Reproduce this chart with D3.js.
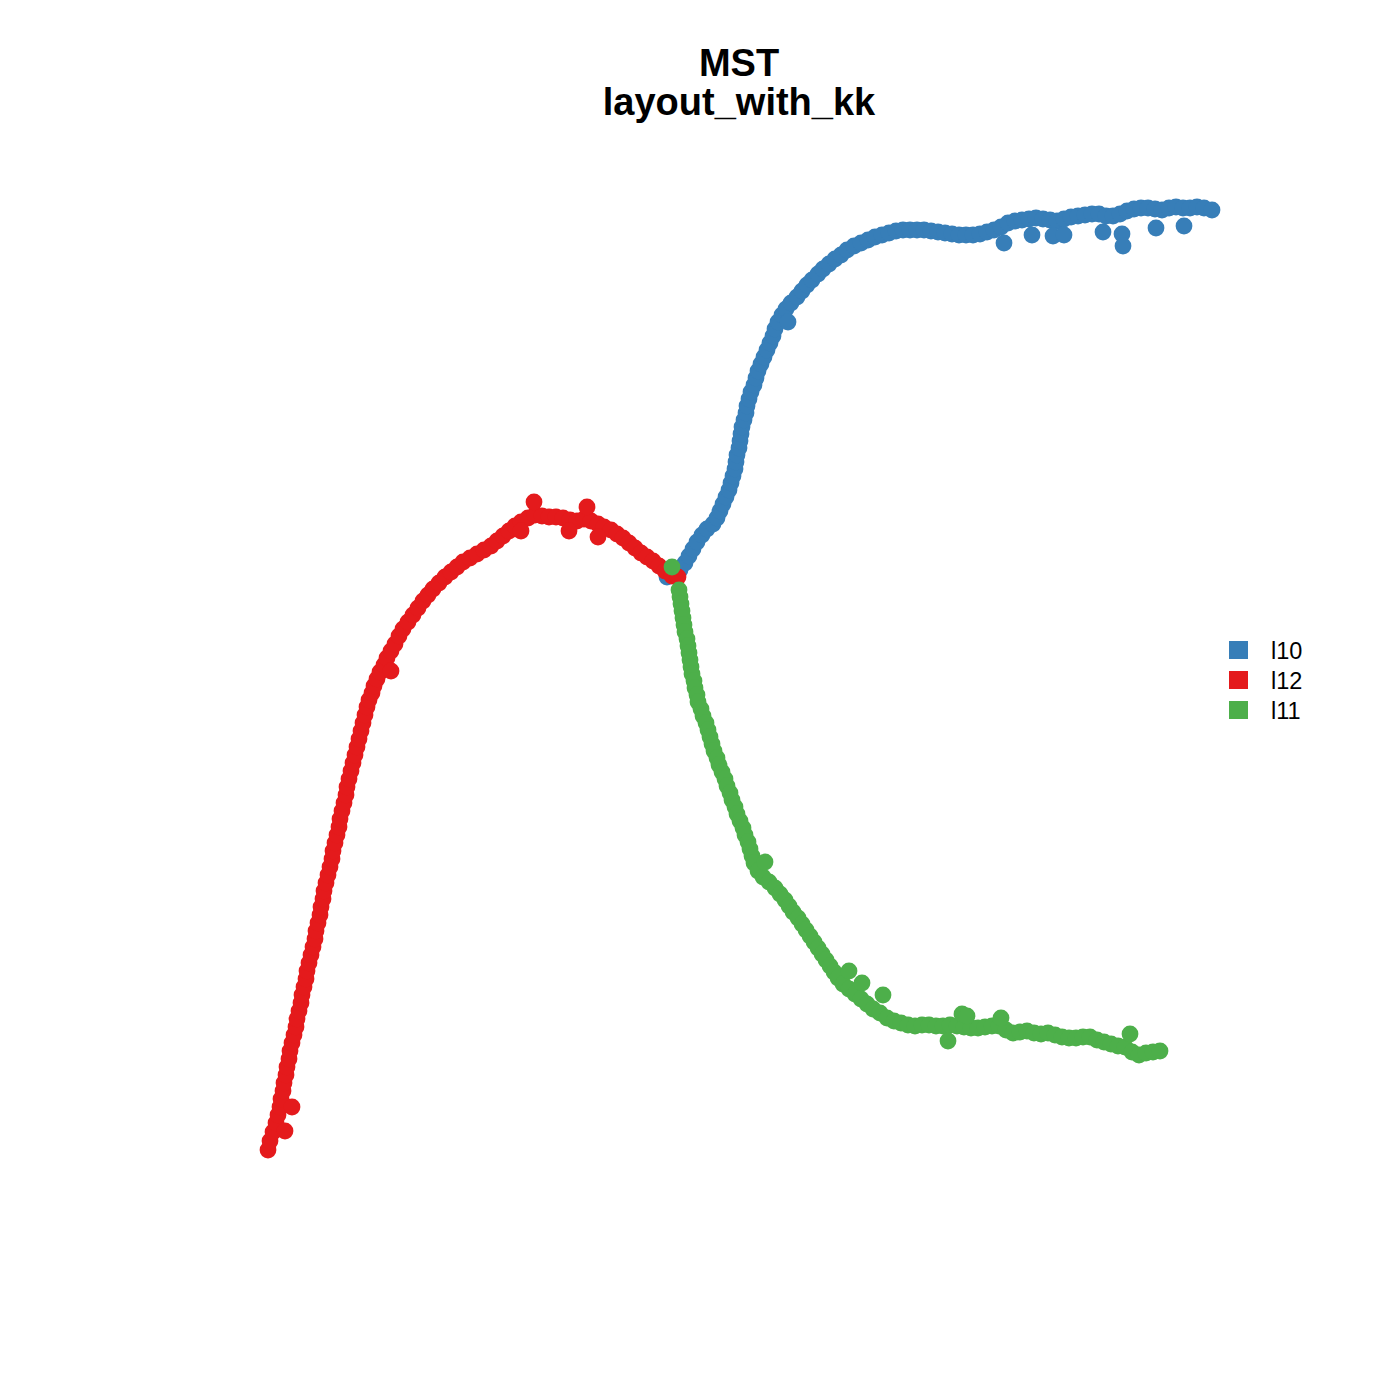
<!DOCTYPE html>
<html>
<head>
<meta charset="utf-8">
<script src="https://cdn.jsdelivr.net/npm/d3@7"></script>
<style>
  html, body { margin: 0; padding: 0; background: #ffffff; }
  svg { display: block; }
</style>
</head>
<body>
<svg id="chart" width="1400" height="1400"></svg>
<script>
// ---- data: layout coordinates (layout_with_kk, arbitrary units) ----
const groups = ["l10", "l12", "l11"];
const groupColors = ["#377EB8", "#E41A1C", "#4DAF4A"];

// l10 (blue) vertices: [x, y]
const l10 = [
  [-3.3,12.3],[-2.8,12.7],[-2.0,13.0],[-1.5,13.7],[-1.1,14.4],[-0.7,15.1],[-0.3,15.8],[0.2,16.5],
  [0.7,17.1],[1.3,17.6],[1.7,18.2],[2.0,18.9],[2.3,19.6],[2.6,20.3],[2.9,21.0],[3.1,21.7],
  [3.3,22.4],[3.5,23.1],[3.6,23.8],[3.7,24.5],[3.9,25.2],[4.0,25.9],[4.1,26.6],[4.2,27.3],
  [4.4,28.0],[4.6,28.7],[4.7,29.4],[4.9,30.1],[5.1,30.8],[5.4,31.5],[5.6,32.2],[5.8,32.9],
  [6.1,33.6],[6.4,34.3],[6.7,35.0],[7.0,35.7],[7.3,36.4],[7.5,37.1],[7.8,37.8],[8.2,38.5],
  [8.6,39.1],[9.1,39.7],[9.7,40.3],[10.2,40.9],[10.7,41.5],[11.2,42.0],[11.8,42.6],[12.3,43.1],
  [12.9,43.6],[13.5,44.1],[14.1,44.5],[14.7,45.0],[15.4,45.4],[16.1,45.7],[16.8,46.0],[17.5,46.3],
  [18.2,46.5],[18.9,46.7],[19.6,46.9],[20.3,47.0],[21.0,47.0],[21.7,47.0],[22.4,47.0],[23.1,46.9],
  [23.8,46.8],[24.5,46.7],[25.2,46.6],[25.9,46.5],[26.6,46.5],[27.3,46.5],[28.0,46.6],[28.7,46.8],
  [29.4,47.0],[30.1,47.3],[30.8,47.7],[31.5,47.9],[32.2,48.0],[32.9,48.1],[33.6,48.2],[34.3,48.1],
  [35.0,48.0],[35.7,47.9],[36.4,48.1],[37.1,48.3],[37.8,48.4],[38.5,48.5],[39.2,48.6],[39.9,48.6],
  [40.6,48.4],[41.3,48.4],[42.0,48.6],[42.7,48.9],[43.4,49.1],[44.1,49.2],[44.8,49.2],[45.5,49.1],
  [46.2,49.0],[46.9,49.2],[47.6,49.3],[48.3,49.2],[49.0,49.2],[49.7,49.3],[50.4,49.2],[51.2,49.0],
  // side leaves
  [8.8,37.8],[30.4,45.7],[33.2,46.5],[35.3,46.4],[36.4,46.5],[40.3,46.8],[42.2,46.6],[42.3,45.4],
  [45.6,47.2],[48.4,47.4]
];

// l12 (red) vertices
const l12 = [
  [-43.2,-45.0],[-43.0,-44.1],[-42.7,-43.2],[-42.4,-42.3],[-42.2,-41.5],[-42.0,-40.7],[-41.9,-39.9],
  [-41.7,-39.1],[-41.6,-38.3],[-41.4,-37.5],[-41.3,-36.7],[-41.1,-35.9],[-41.0,-35.1],[-40.8,-34.3],
  [-40.6,-33.5],[-40.4,-32.7],[-40.3,-31.9],[-40.1,-31.1],[-39.9,-30.3],[-39.8,-29.5],[-39.6,-28.7],
  [-39.4,-27.9],[-39.3,-27.1],[-39.1,-26.3],[-38.9,-25.5],[-38.7,-24.7],[-38.5,-23.9],[-38.4,-23.1],
  [-38.2,-22.3],[-38.0,-21.5],[-37.9,-20.7],[-37.7,-19.9],[-37.6,-19.1],[-37.4,-18.3],[-37.2,-17.5],
  [-37.0,-16.7],[-36.8,-15.9],[-36.7,-15.1],[-36.5,-14.3],[-36.3,-13.5],[-36.1,-12.7],[-36.0,-11.9],
  [-35.8,-11.1],[-35.6,-10.3],[-35.4,-9.5],[-35.3,-8.7],[-35.1,-7.9],[-34.9,-7.1],[-34.7,-6.3],
  [-34.5,-5.5],[-34.3,-4.7],[-34.1,-3.9],[-33.9,-3.1],[-33.7,-2.3],[-33.5,-1.5],[-33.3,-0.7],
  [-33.1,0.0],[-32.8,0.7],[-32.6,1.4],[-32.3,2.1],[-32.0,2.8],[-31.6,3.5],[-31.3,4.2],[-30.9,4.9],
  [-30.5,5.6],[-30.1,6.4],[-29.7,7.1],[-29.2,7.8],[-28.7,8.5],[-28.2,9.2],[-27.7,9.9],[-27.2,10.5],
  [-26.7,11.1],[-26.1,11.7],[-25.5,12.3],[-24.9,12.8],[-24.3,13.3],[-23.7,13.8],[-23.0,14.2],
  [-22.3,14.6],[-21.6,15.0],[-20.9,15.4],[-20.3,15.9],[-19.7,16.4],[-19.1,16.9],[-18.5,17.4],
  [-17.9,17.8],[-17.2,18.2],[-16.5,18.5],[-15.8,18.4],[-15.1,18.3],[-14.4,18.3],[-13.7,18.2],
  [-13.0,18.0],[-12.3,17.9],[-11.6,18.1],[-10.9,17.9],[-10.2,17.6],[-9.6,17.3],[-8.9,17.0],
  [-8.3,16.6],[-7.7,16.2],[-7.1,15.7],[-6.5,15.2],[-5.9,14.7],[-5.3,14.3],[-4.7,13.9],[-4.1,13.4],
  [-3.5,12.9],[-2.8,12.4],[-2.2,12.3],
  // side leaves
  [-41.5,-43.1],[-40.8,-40.7],[-30.9,2.9],[-16.6,19.8],[-17.9,16.9],[-13.1,16.9],[-11.3,19.3],[-10.2,16.3]
];

// l11 (green) vertices
const l11 = [
  [-2.8,13.3],[-2.1,11.0],[-2.0,10.3],[-1.9,9.6],[-1.8,8.9],[-1.7,8.2],[-1.6,7.5],[-1.5,6.8],
  [-1.3,6.1],[-1.2,5.4],[-1.1,4.7],[-1.0,4.0],[-0.9,3.3],[-0.8,2.6],[-0.6,1.9],[-0.5,1.2],
  [-0.3,0.5],[-0.2,-0.2],[0.1,-0.9],[0.3,-1.6],[0.6,-2.3],[0.8,-3.0],[1.0,-3.7],[1.2,-4.4],
  [1.4,-5.1],[1.7,-5.8],[1.9,-6.5],[2.2,-7.2],[2.5,-7.9],[2.7,-8.6],[3.0,-9.3],[3.2,-10.0],
  [3.5,-10.7],[3.7,-11.4],[4.0,-12.1],[4.3,-12.8],[4.5,-13.5],[4.8,-14.2],[5.0,-14.9],[5.2,-15.6],
  [5.4,-16.3],[5.8,-17.1],[6.3,-17.7],[6.9,-18.2],[7.5,-18.8],[8.0,-19.4],[8.5,-20.0],[8.9,-20.6],
  [9.3,-21.2],[9.8,-21.8],[10.2,-22.4],[10.6,-23.0],[11.0,-23.6],[11.4,-24.2],[11.8,-24.8],
  [12.2,-25.4],[12.6,-26.0],[13.0,-26.6],[13.4,-27.2],[13.8,-27.8],[14.3,-28.4],[14.9,-28.9],
  [15.5,-29.4],[16.1,-29.9],[16.7,-30.4],[17.3,-30.9],[18.0,-31.3],[18.7,-31.8],[19.4,-32.1],
  [20.1,-32.3],[20.8,-32.5],[21.5,-32.6],[22.2,-32.5],[22.9,-32.5],[23.6,-32.6],[24.3,-32.6],
  [25.0,-32.5],[25.7,-32.6],[26.4,-32.7],[27.1,-32.8],[27.8,-32.8],[28.5,-32.7],[29.2,-32.6],
  [29.9,-32.6],[30.6,-33.0],[31.3,-33.3],[32.0,-33.2],[32.7,-33.1],[33.4,-33.3],[34.1,-33.4],
  [34.8,-33.3],[35.5,-33.5],[36.2,-33.7],[36.9,-33.8],[37.6,-33.8],[38.3,-33.7],[39.0,-33.7],
  [39.7,-34.0],[40.4,-34.2],[41.1,-34.4],[41.8,-34.6],[42.5,-34.7],[43.2,-35.2],[43.9,-35.5],
  [44.6,-35.3],[45.3,-35.2],[46.0,-35.1],
  // side leaves
  [6.5,-16.2],[14.9,-27.1],[16.2,-28.3],[18.3,-29.5],[24.8,-34.1],[26.2,-31.4],[26.7,-31.6],
  [30.1,-31.8],[43.0,-33.4]
];

const titleLines = ["MST", "layout_with_kk"];

// ---- drawing ----
const svg = d3.select("#chart");
svg.append("rect").attr("width", 1400).attr("height", 1400).attr("fill", "#ffffff");

const seriesData = [l10, l12, l11];
const all = seriesData.flat();

const x = d3.scaleLinear()
  .domain(d3.extent(all, d => d[0]))
  .range([268, 1212]);
const y = d3.scaleLinear()
  .domain(d3.extent(all, d => d[1]))
  .range([1150, 207]);

const r = 8.4;
seriesData.forEach((pts, i) => {
  svg.append("g")
    .attr("class", "group-" + groups[i])
    .selectAll("circle")
    .data(pts)
    .join("circle")
    .attr("cx", d => x(d[0]))
    .attr("cy", d => y(d[1]))
    .attr("r", r)
    .attr("fill", groupColors[i]);
});

// title (two lines of one text element)
const title = svg.append("text")
  .attr("text-anchor", "middle")
  .attr("font-family", "Liberation Sans, Arial, Helvetica, sans-serif")
  .attr("font-weight", "bold")
  .attr("font-size", 38)
  .attr("fill", "#000");
title.append("tspan").attr("x", 739).attr("y", 76).text(titleLines[0]);
title.append("tspan").attr("x", 739).attr("y", 115).text(titleLines[1]);

// legend
const legend = svg.append("g").attr("class", "legend");
const ly = d3.scalePoint().domain(groups).range([650, 710]);
groups.forEach((g, i) => {
  legend.append("rect")
    .attr("x", 1229).attr("y", ly(g) - 9)
    .attr("width", 19).attr("height", 18)
    .attr("fill", groupColors[i]);
  legend.append("text")
    .attr("x", 1271).attr("y", ly(g) + 8.5)
    .attr("font-family", "Liberation Sans, Arial, Helvetica, sans-serif")
    .attr("font-size", 23.5)
    .attr("fill", "#000")
    .text(g);
});
</script>
</body>
</html>
